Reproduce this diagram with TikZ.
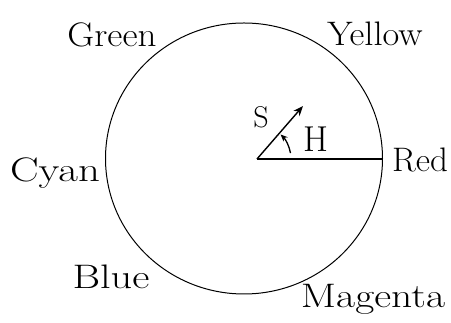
\documentclass[tikz,border=0pt]{standalone}
\usepackage{fontspec}
\usetikzlibrary{arrows.meta,shapes.geometric,calc}
\newcommand\hwtext[2]{\scalebox{#1}[1]{#2}}
\begin{document}
\begin{tikzpicture}[x=1pt,y=1pt,
  lbl/.style={font=\fontsize{34}{38}\selectfont, inner sep=0pt},
  sym/.style={font=\fontsize{30}{32}\selectfont, inner sep=0pt},
  wheel/.style={line width=1pt},
  ray/.style={line width=1.4pt}]
\useasboundingbox (0,0) rectangle (451,323);
\coordinate (C) at (257,164);
\node[draw, wheel, ellipse, minimum width=277pt, minimum height=271pt, inner sep=0pt] (W) at (244,164.5) {};
\coordinate (R) at (382.5,164);
\coordinate (T) at (303,217);
\draw[ray] (C) -- (R);
\draw[ray, -{Stealth[length=10pt,width=8pt]}] (C) -- (T);
\draw[line width=1.3pt, -{Stealth[length=7pt,width=6pt]}] ($(C)+(10:34)$) arc (10:46:34);
\node[sym] (S) at (261,206) {S};
\node[sym, font=\fontsize{36}{38}\selectfont] (H) at (316,184) {H};
\node[lbl] (green) at (112,288) {\hwtext{1.09}{Green}};
\node[lbl] (yellow) at (375,289) {\hwtext{1.07}{Yellow}};
\node[lbl] (cyan) at (55,150) {\hwtext{1.26}{Cyan}};
\node[lbl] (red) at (420,163) {\hwtext{1.03}{Red}};
\node[lbl] (blue) at (111,46) {\hwtext{1.24}{Blue}};
\node[lbl] (magenta) at (373,24) {\hwtext{1.22}{Magenta}};
\end{tikzpicture}
\end{document}
